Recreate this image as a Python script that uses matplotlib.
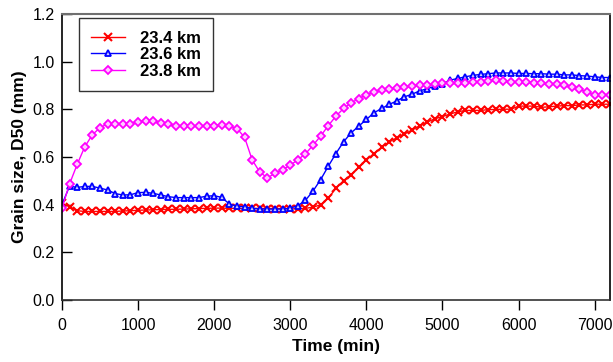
import numpy as np
import matplotlib
matplotlib.use("Agg")
import matplotlib.pyplot as plt

plt.rcParams['font.family'] = ['Liberation Sans', 'DejaVu Sans']

time = np.arange(0, 7300, 100)

d_234 = [0.406, 0.392, 0.375, 0.372, 0.372, 0.372, 0.372, 0.372, 0.374, 0.375,
         0.377, 0.378, 0.379, 0.380, 0.381, 0.381, 0.382, 0.383, 0.384, 0.385,
         0.386, 0.386, 0.385, 0.385, 0.385, 0.385, 0.385, 0.384, 0.384, 0.384,
         0.383, 0.383, 0.385, 0.390, 0.400, 0.428, 0.469, 0.501, 0.526, 0.557,
         0.588, 0.615, 0.641, 0.664, 0.681, 0.697, 0.713, 0.732, 0.747, 0.761,
         0.770, 0.781, 0.790, 0.796, 0.796, 0.796, 0.799, 0.800, 0.801, 0.801,
         0.814, 0.814, 0.814, 0.809, 0.811, 0.814, 0.816, 0.816, 0.819, 0.819,
         0.822, 0.822, 0.822]

d_236 = [0.400, 0.478, 0.473, 0.477, 0.477, 0.470, 0.462, 0.447, 0.441, 0.442,
         0.451, 0.452, 0.448, 0.441, 0.434, 0.430, 0.430, 0.430, 0.430, 0.436,
         0.438, 0.431, 0.403, 0.394, 0.392, 0.385, 0.382, 0.382, 0.382, 0.382,
         0.386, 0.396, 0.419, 0.458, 0.506, 0.562, 0.615, 0.664, 0.702, 0.730,
         0.758, 0.786, 0.804, 0.821, 0.836, 0.853, 0.864, 0.878, 0.887, 0.898,
         0.908, 0.923, 0.930, 0.937, 0.943, 0.947, 0.950, 0.953, 0.953, 0.953,
         0.951, 0.951, 0.950, 0.950, 0.948, 0.948, 0.945, 0.945, 0.942, 0.940,
         0.937, 0.934, 0.934]

d_238 = [0.385, 0.487, 0.569, 0.643, 0.694, 0.723, 0.740, 0.740, 0.737, 0.740,
         0.748, 0.752, 0.750, 0.744, 0.737, 0.732, 0.732, 0.732, 0.732, 0.732,
         0.732, 0.733, 0.730, 0.720, 0.683, 0.588, 0.537, 0.513, 0.532, 0.548,
         0.566, 0.589, 0.614, 0.650, 0.689, 0.732, 0.772, 0.804, 0.828, 0.845,
         0.862, 0.873, 0.881, 0.886, 0.890, 0.894, 0.897, 0.901, 0.903, 0.906,
         0.910, 0.909, 0.909, 0.913, 0.916, 0.916, 0.920, 0.922, 0.919, 0.916,
         0.916, 0.916, 0.913, 0.909, 0.908, 0.905, 0.902, 0.895, 0.884, 0.873,
         0.859, 0.860, 0.860]

labels = ["23.4 km", "23.6 km", "23.8 km"]
x_ticks = [0, 1000, 2000, 3000, 4000, 5000, 6000, 7000]
y_ticks = [0.0, 0.2, 0.4, 0.6, 0.8, 1.0, 1.2]

fig = plt.figure(figsize=(6.13, 3.62), dpi=100)
ax = fig.add_axes([0.101, 0.171, 0.894, 0.790])

ax.plot(time, d_234, color='red', lw=1.0, marker='x', ms=5.5, mew=1.5,
        label=labels[0])
ax.plot(time, d_236, color='blue', lw=1.0, marker='^', ms=5, mew=1.3,
        mfc='#ccccff', label=labels[1])
ax.plot(time, d_238, color='magenta', lw=1.0, marker='D', ms=4.2, mew=1.3,
        mfc='#ffccff', label=labels[2])

ax.set_xlim(0, 7200)
ax.set_ylim(0, 1.2)
ax.set_xticks(x_ticks)
ax.set_yticks(y_ticks)
ax.set_yticklabels([f"{v:.1f}" for v in y_ticks])
ax.tick_params(axis='y', direction='in', length=7, width=1, labelsize=11.5, pad=5)
ax.tick_params(axis='x', direction='out', length=7, width=1, labelsize=11.5, pad=6)

ax.spines['top'].set_color('#707070')
ax.spines['top'].set_linewidth(1.5)
ax.spines['right'].set_linewidth(1.2)
ax.spines['left'].set_linewidth(1.2)
ax.spines['bottom'].set_color('#333333')
ax.spines['bottom'].set_linewidth(1.2)

ax.set_xlabel("Time (min)", fontsize=12.5, fontweight='bold', labelpad=4)
ax.set_ylabel("Grain size, D50 (mm)", fontsize=12.5, fontweight='bold', labelpad=4)

leg = ax.legend(loc='upper left', bbox_to_anchor=(0.031, 0.986), frameon=True,
                fancybox=False, edgecolor='#333333', framealpha=1,
                prop={'weight': 'bold', 'size': 12}, handlelength=2.0,
                labelspacing=0.1, borderpad=0.75, handletextpad=0.9,
                borderaxespad=0)
leg.get_frame().set_linewidth(1.0)

fig.savefig("out.png", dpi=100)
